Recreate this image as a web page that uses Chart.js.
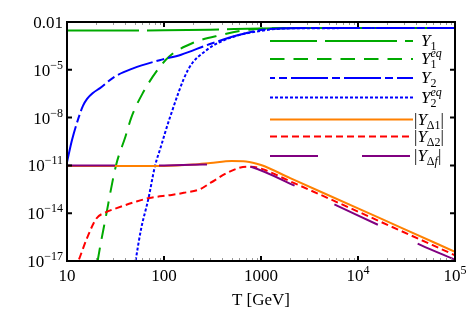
<!DOCTYPE html>
<html>
<head>
<meta charset="utf-8">
<script src="https://cdn.jsdelivr.net/npm/chart.js@4.4.0/dist/chart.umd.min.js"></script>
<style>
  html, body { margin: 0; padding: 0; background: #fff; }
</style>
</head>
<body>
<canvas id="yieldChart" width="469" height="315"></canvas>
<script>
// values (T in GeV)
const tY1 = [10, 100, 300, 1000, 3000, 100000];
const valY1 = [2.9e-3, 3.0e-3, 3.3e-3, 3.9e-3, 4.2e-3, 4.2e-3];

const tY1eq = [19, 20.7, 25, 32, 40, 46, 60, 86, 114, 200, 400, 700, 1000, 3000, 100000];
const valY1eq = [3e-19, 1e-17, 5e-15, 1e-11, 6.3e-10, 1e-8, 3.2e-7, 1e-5, 7.1e-5, 5e-4, 1.58e-3, 3.16e-3, 3.8e-3, 4.2e-3, 4.2e-3];

const tY2 = [10, 11.26, 13.1, 14.6, 16.1, 18.5, 21.9, 31, 48, 90, 150, 293, 600, 1000, 2000, 100000];
const valY2 = [1.58e-11, 3.9e-10, 8.9e-9, 5.4e-8, 1.48e-7, 3.5e-7, 7.1e-7, 3.7e-6, 1.23e-5, 4.0e-5, 8.9e-5, 4.0e-4, 1.58e-3, 3.16e-3, 4.1e-3, 4.2e-3];

const tY2eq = [47, 51, 58, 69, 81, 91, 115, 177, 277, 479, 1000, 2000, 100000];
const valY2eq = [3e-19, 1e-17, 1e-15, 7.9e-14, 1e-11, 1e-10, 1e-8, 1e-5, 1.78e-4, 1e-3, 2.8e-3, 4e-3, 4.2e-3];

const tD1 = [10, 100, 200, 300, 500, 700, 1000, 2000, 10000, 30000, 100000];
const valD1 = [9.1e-12, 9.3e-12, 1.12e-11, 1.41e-11, 1.9e-11, 1.78e-11, 1.05e-11, 1.58e-12, 2e-14, 1e-15, 3.8e-17];

const tD2 = [12, 12.9, 16, 20, 25, 32, 50, 70, 120, 160, 235, 300, 440, 600, 720, 850, 1000, 2000, 10000, 100000];
const valD2 = [3e-18, 7.9e-18, 2.5e-16, 4.5e-15, 1.12e-14, 2e-14, 5e-14, 8.9e-14, 1.41e-13, 1.9e-13, 3.2e-13, 7.9e-13, 3.2e-12, 7.1e-12, 8.3e-12, 7.9e-12, 6.3e-12, 1e-12, 1.26e-14, 2.3e-17];

const tDf = [10, 100, 250, 500, 815, 2357, 6065, 17140, 44500, 100000];
const valDf = [1e-11, 1e-11, 1.12e-11, 1.41e-11, 7.6e-12, 4.5e-13, 3e-14, 1.55e-15, 1e-16, 1.2e-17];

const xTicks = [10, 100, 1000, 10000, 100000];
const xTickLabels = ['10', '100', '1000', '10^4', '10^5'];
const yTicks = [1e-2, 1e-5, 1e-8, 1e-11, 1e-14, 1e-17];
const yTickLabels = ['0.01', '10^\u22125', '10^\u22128', '10^\u221211', '10^\u221214', '10^\u221217'];

// legend labels: base, subscript, superscript, absolute-value bars
const seriesLabels = [
    { base: 'Y', sub: '1', sup: '', bars: false },
    { base: 'Y', sub: '1', sup: 'eq', bars: false },
    { base: 'Y', sub: '2', sup: '', bars: false },
    { base: 'Y', sub: '2', sup: 'eq', bars: false },
    { base: 'Y', sub: '\u03941', sup: '', bars: true },
    { base: 'Y', sub: '\u03942', sup: '', bars: true },
    { base: 'Y', sub: '\u0394f', sup: '', bars: true }
];

const green = 'rgb(0,170,0)';
const blue = 'rgb(0,0,255)';
const serif = "'Liberation Serif', 'DejaVu Serif', serif";

function pts(ts, vs) {
    return ts.map((t, i) => ({ x: t, y: vs[i] }));
}

function series(ts, vs, color, dash, idx) {
    return {
        data: pts(ts, vs),
        borderColor: color,
        borderWidth: 2,
        borderDash: dash,
        pointRadius: 0,
        fill: false,
        cubicInterpolationMode: 'monotone',
        order: 10 - idx   // later series on top
    };
}

const datasets = [
    series(tY1, valY1, green, [72, 8], 0),
    series(tY1eq, valY1eq, green, [14.5, 9], 1),
    series(tY2, valY2, blue, [37, 4, 8, 4], 2),
    series(tY2eq, valY2eq, blue, [3, 2], 3),
    series(tD1, valD1, 'rgb(255,128,0)', [], 4),
    series(tD2, valD2, 'rgb(255,0,0)', [7, 4], 5),
    series(tDf, valDf, 'rgb(128,0,128)', [48, 44], 6)
];

// legend layout
const legendRows = [41, 59, 78, 97.5, 119.5, 136.5, 156];
const legendDashOffset = [25, 0, 32, 0, 0, 0, 0];

// --- rich text (sub / superscripts) ---
function fontOf(p) {
    return (p.italic ? 'italic ' : '') + p.size + 'px ' + serif;
}

function layoutRich(ctx, pieces) {
    let x = 0, prevStart = 0;
    pieces.forEach(p => {
        ctx.font = fontOf(p);
        const w = ctx.measureText(p.t).width;
        const start = p.back ? prevStart : x;
        if (!p.back) prevStart = start;
        p._x = start;
        x = Math.max(x, start + w);
    });
    return x;
}

function drawRich(ctx, pieces, x, y, align) {
    const total = layoutRich(ctx, pieces);
    let x0 = x;
    if (align === 'right') x0 = x - total;
    if (align === 'center') x0 = x - total / 2;
    ctx.textAlign = 'left';
    ctx.textBaseline = 'alphabetic';
    pieces.forEach(p => {
        ctx.font = fontOf(p);
        ctx.fillText(p.t, x0 + p._x, y - (p.rise || 0));
    });
}

function tickPieces(label) {
    const parts = label.split('^');
    const out = [{ t: parts[0], size: 17 }];
    if (parts[1]) out.push({ t: parts[1], size: 12, rise: 7 });
    return out;
}

function smallRuns(str, rise, firstBack) {
    const runs = str.match(/[a-z]+|[^a-z]+/g) || [];
    return runs.map((r, i) => ({ t: r, size: 12, italic: /[a-z]/.test(r), rise: rise, back: firstBack && i === 0 }));
}

function legendPieces(lab) {
    let out = [];
    if (lab.bars) out.push({ t: '|', size: 17 });
    out.push({ t: lab.base, size: 17, italic: true });
    out = out.concat(smallRuns(lab.sub, -4, false));
    if (lab.sup) out = out.concat(smallRuns(lab.sup, 7, true));
    if (lab.bars) out.push({ t: '|', size: 17 });
    return out;
}

const decorations = {
    id: 'decorations',
    afterDraw(chart) {
        const ctx = chart.ctx;
        const a = chart.chartArea;
        const xs = chart.scales.x, ys = chart.scales.y;
        ctx.save();

        // minor ticks on the log x axis
        ctx.strokeStyle = '#999';
        ctx.lineWidth = 1;
        for (let d = 10; d < 100000; d *= 10) {
            for (let k = 2; k <= 9; k++) {
                const px = Math.round(xs.getPixelForValue(d * k)) + 0.5;
                ctx.beginPath();
                ctx.moveTo(px, a.top); ctx.lineTo(px, a.top + 3);
                ctx.moveTo(px, a.bottom); ctx.lineTo(px, a.bottom - 3);
                ctx.stroke();
            }
        }

        // major ticks, pointing inwards on all four sides
        ctx.strokeStyle = '#000';
        ctx.lineWidth = 2;
        xTicks.forEach(v => {
            const px = xs.getPixelForValue(v);
            ctx.beginPath();
            ctx.moveTo(px, a.top); ctx.lineTo(px, a.top + 5);
            ctx.moveTo(px, a.bottom); ctx.lineTo(px, a.bottom - 5);
            ctx.stroke();
        });
        yTicks.forEach(v => {
            const py = ys.getPixelForValue(v);
            ctx.beginPath();
            ctx.moveTo(a.left, py); ctx.lineTo(a.left + 5, py);
            ctx.moveTo(a.right, py); ctx.lineTo(a.right - 5, py);
            ctx.stroke();
        });

        // frame
        ctx.lineWidth = 2;
        ctx.strokeRect(a.left, a.top, a.right - a.left, a.bottom - a.top);

        // tick labels
        ctx.fillStyle = '#000';
        xTicks.forEach((v, i) => {
            drawRich(ctx, tickPieces(xTickLabels[i]), xs.getPixelForValue(v), a.bottom + 20, 'center');
        });
        yTicks.forEach((v, i) => {
            drawRich(ctx, tickPieces(yTickLabels[i]), a.left - 4, ys.getPixelForValue(v) + 6, 'right');
        });

        // axis title
        drawRich(ctx, [{ t: 'T [GeV]', size: 17 }], (a.left + a.right) / 2, a.bottom + 43.5, 'center');

        // legend
        chart.data.datasets.forEach((ds, i) => {
            const y = legendRows[i];
            ctx.strokeStyle = ds.borderColor;
            ctx.lineWidth = ds.borderWidth;
            ctx.setLineDash(ds.borderDash);
            ctx.lineDashOffset = legendDashOffset[i];
            ctx.beginPath();
            ctx.moveTo(270, y); ctx.lineTo(413, y);
            ctx.stroke();
            ctx.setLineDash([]);
            ctx.lineDashOffset = 0;
            const lab = seriesLabels[i];
            drawRich(ctx, legendPieces(lab), lab.bars ? 414 : 421, y + 5, 'left');
        });

        ctx.restore();
    }
};

const ctx = document.getElementById('yieldChart').getContext('2d');
new Chart(ctx, {
    type: 'line',
    data: { datasets: datasets },
    options: {
        responsive: false,
        animation: false,
        layout: { padding: { left: 67, top: 22, right: 14, bottom: 54 } },
        plugins: {
            legend: { display: false },
            tooltip: { enabled: false }
        },
        scales: {
            x: { type: 'logarithmic', min: 10, max: 100000, display: false },
            y: { type: 'logarithmic', min: 1e-17, max: 1e-2, display: false }
        }
    },
    plugins: [decorations]
});
</script>
</body>
</html>
